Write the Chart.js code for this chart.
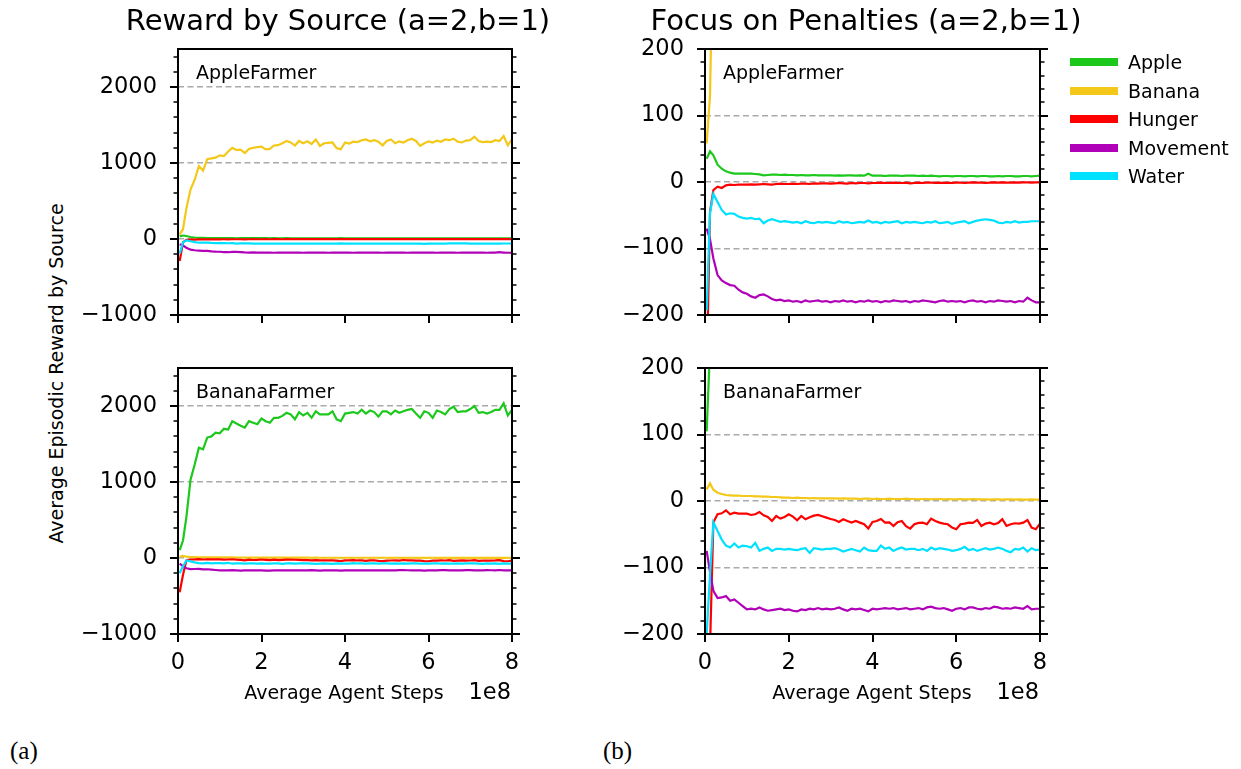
<!DOCTYPE html>
<html>
<head>
<meta charset="utf-8">
<script src="https://cdn.jsdelivr.net/npm/chart.js@4/dist/chart.umd.min.js"></script>
<style>
  html, body { margin: 0; padding: 0; background: #ffffff; }
  body { width: 1241px; height: 769px; position: relative; overflow: hidden; font-family: "DejaVu Sans", sans-serif; color: #000; }
  .box { position: absolute; }
  .t { position: absolute; white-space: nowrap; line-height: 1; font-family: "DejaVu Sans", sans-serif; color: #000; }
</style>
</head>
<body>
<div class="box" id="boxTL" style="left:78px;top:9px;width:459px;height:356px;"><canvas id="cTL"></canvas></div>
<div class="box" id="boxBL" style="left:78px;top:328px;width:459px;height:356px;"><canvas id="cBL"></canvas></div>
<div class="box" id="boxTR" style="left:605px;top:9px;width:460px;height:356px;"><canvas id="cTR"></canvas></div>
<div class="box" id="boxBR" style="left:605px;top:328px;width:460px;height:356px;"><canvas id="cBR"></canvas></div>
<script>
// ---------------- data ----------------
// x positions in units of 1e8 agent steps
const steps = [
  0.04, 0.12, 0.2, 0.3, 0.4, 0.5, 0.6, 0.7, 0.8, 0.9,
  1.0, 1.1, 1.2, 1.3, 1.4, 1.5, 1.6, 1.7, 1.8, 1.9,
  2.0, 2.1, 2.2, 2.3, 2.4, 2.5, 2.6, 2.7, 2.8, 2.9,
  3.0, 3.1, 3.2, 3.3, 3.4, 3.5, 3.6, 3.7, 3.8, 3.9,
  4.0, 4.1, 4.2, 4.3, 4.4, 4.5, 4.6, 4.7, 4.8, 4.9,
  5.0, 5.1, 5.2, 5.3, 5.4, 5.5, 5.6, 5.7, 5.8, 5.9,
  6.0, 6.1, 6.2, 6.3, 6.4, 6.5, 6.6, 6.7, 6.8, 6.9,
  7.0, 7.1, 7.2, 7.3, 7.4, 7.5, 7.6, 7.7, 7.8, 7.9,
  8.0
];
const seriesNames = ['Apple', 'Banana', 'Hunger', 'Movement', 'Water'];
const farmerNames = ['AppleFarmer', 'BananaFarmer'];

// AppleFarmer
const appleFarmerApple = [
  35, 46, 40, 26, 20, 16, 14, 12.5, 12.5, 12.5,
  12.5, 12.5, 12, 11.5, 10, 10.5, 11, 11, 10.5, 11,
  10.5, 10.5, 10, 10.5, 10, 10, 10.5, 10, 10, 10,
  10, 9.5, 10, 9.5, 10, 10, 9.5, 10, 9.5, 12.5,
  9.5, 9.5, 9.5, 9, 9.5, 9.5, 9.5, 9, 9.5, 9.5,
  9.5, 9, 9.5, 9, 9.5, 9, 8.5, 9, 9, 8.5,
  9, 9, 8.5, 9, 9, 8.5, 9, 9, 8.5, 8.5,
  9, 8.5, 9, 9, 8.5, 8.5, 9, 9, 8.5, 9,
  9.5
];
const appleFarmerBanana = [
  58, 130, 400, 650, 780, 960, 900, 1050, 1060, 1070,
  1100, 1090, 1150, 1200, 1170, 1175, 1130, 1185, 1200, 1210,
  1215, 1180, 1185, 1230, 1235, 1260, 1290, 1270, 1230, 1290,
  1260, 1285, 1250, 1310, 1225, 1260, 1265, 1270, 1195, 1180,
  1270, 1255, 1280, 1275, 1300, 1310, 1285, 1300, 1280, 1232,
  1290, 1310, 1260, 1285, 1270, 1300, 1320, 1290, 1225, 1260,
  1285, 1270, 1295, 1280, 1310, 1300, 1320, 1280, 1270, 1295,
  1300, 1346, 1290, 1276, 1280, 1276, 1300, 1290, 1355, 1232,
  1310
];
const appleFarmerHunger = [
  -290, -45, -12, -7, -9, -5, -4, -4.5, -4, -4,
  -4, -3.5, -4, -3.5, -3, -3.5, -4, -3, -2.5, -3,
  -3, -2.5, -3, -2.5, -2.5, -3, -2, -2.5, -2, -2,
  -2.5, -2, -1.5, -2, -2.5, -1.5, -2, -1.5, -1.5, -2,
  -1.5, -1.5, -1, -1.5, -1.5, -1, -1.5, -1.5, -1, -2,
  -1.5, -1, -1.5, -1, -1, -1.5, -1, -1.5, -1, -1.5,
  -1, -1, -1.5, -1, -0.5, -1, -1, -1.5, -1, -0.5,
  -1, -0.5, -1, -1, -0.5, -1, -0.5, -0.5, -1, -0.5,
  -0.5
];
const appleFarmerMovement = [
  -70, -86, -115, -140, -148, -152, -155, -156, -162, -166,
  -168, -172, -174, -170, -169, -172, -176, -178, -177, -179,
  -178, -180, -179, -181, -178, -180, -179, -178, -180, -179,
  -181, -179, -180, -178, -180, -179, -181, -179, -180, -178,
  -180, -179, -181, -179, -180, -178, -179, -180, -179, -181,
  -179, -180, -178, -179, -180, -181, -179, -178, -180, -179,
  -180, -179, -181, -179, -178, -180, -179, -181, -179, -180,
  -178, -179, -180, -179, -181, -179, -180, -174, -178, -181,
  -181
];
const appleFarmerWater = [
  -193, -46, -18, -30, -42, -49, -47, -48, -52, -54,
  -55, -54, -56, -55, -62, -58, -56, -58, -60, -59,
  -60, -61, -60, -62, -59, -61, -62, -60, -61, -60,
  -61, -62, -59, -61, -60, -62, -61, -60, -61, -58,
  -61, -60, -62, -60, -61, -60, -59, -62, -60, -61,
  -60, -61, -62, -60, -61, -59, -62, -61, -60, -63,
  -61, -60, -59, -62, -60, -58, -57, -56, -57, -58,
  -61, -62, -60, -61, -59, -61, -60, -60, -59, -59,
  -59
];

// BananaFarmer
const bananaFarmerApple = [
  105, 230, 535, 1030, 1230, 1450, 1430, 1585, 1600, 1650,
  1640, 1700, 1690, 1800, 1770, 1740, 1715, 1800, 1780, 1760,
  1835, 1800, 1780, 1845, 1845, 1870, 1910, 1890, 1825, 1920,
  1875, 1910, 1845, 1930, 1890, 1890, 1890, 1930, 1825, 1800,
  1900, 1910, 1920, 1900, 1950, 1900, 1940, 1920, 1860, 1930,
  1930, 1890, 1940, 1910, 1930, 1950, 1960, 1900, 1845, 1930,
  1910, 1845, 1940, 1920, 1890, 1960, 1990, 1920, 1930, 1930,
  1960, 2000, 1910, 1920, 1900, 1920, 1950, 1950, 2035, 1875,
  1950
];
const bananaFarmerBanana = [
  17.5, 26.5, 17, 12.5, 10.5, 9, 8.5, 8, 8, 7.5,
  7.5, 7.5, 7, 7, 6.5, 6.5, 6, 6, 5.5, 5,
  5, 4.5, 5, 4.5, 4.5, 4, 4.5, 4, 4, 4,
  4, 4, 3.5, 4, 3.5, 3.5, 3.5, 3, 3.5, 3.5,
  3, 3.5, 3, 3, 3.5, 3, 3, 3, 3.5, 3,
  3, 2.5, 3, 3, 2.5, 3, 3, 2.5, 3, 2.5,
  2.5, 3, 2.5, 2.5, 3, 2.5, 2.5, 2.5, 2, 2.5,
  2.5, 2, 2.5, 2.5, 2, 2.5, 2, 2, 2.5, 2,
  2
];
const bananaFarmerHunger = [
  -450, -220, -32, -20, -18.5, -14, -20, -17.5, -19, -19,
  -19, -21, -20, -16.5, -21.5, -24, -30, -22.5, -26.5, -24,
  -20, -23.5, -29, -22.5, -27.5, -24.5, -22, -21, -23, -25,
  -27, -28.5, -31.5, -27.5, -30, -32.5, -30, -32.5, -35, -41.5,
  -31.5, -30, -27, -32.5, -32, -37.5, -32, -30, -38, -41.5,
  -35, -33, -32.5, -35, -26.5, -30, -32.5, -34, -35, -40,
  -42.5, -35, -34, -32.5, -33, -28.5, -37.5, -34, -32.5, -35,
  -33, -27.5, -37.5, -35, -33.5, -34, -32.5, -28.5, -40, -42.5,
  -34
];
const bananaFarmerMovement = [
  -75, -107, -135, -146, -145, -143, -150, -148, -153, -158,
  -163, -162, -163, -160, -163, -165, -164, -163, -162, -164,
  -163, -165, -166, -163, -164, -162, -163, -161, -163, -162,
  -163, -162, -160, -163, -165, -162, -163, -162, -164, -166,
  -162, -163, -162, -161, -162, -161, -163, -162, -161, -163,
  -162, -161, -163, -160, -159, -161, -162, -161, -163, -165,
  -162, -161, -163, -160, -160, -162, -163, -161, -162, -159,
  -160, -162, -161, -162, -160, -161, -162, -158, -163, -162,
  -162
];
const bananaFarmerWater = [
  -200, -110, -32, -45, -58, -67, -70, -64, -70, -67,
  -68, -70, -63, -75, -72, -70, -75, -72, -72, -73,
  -72, -73, -74, -72, -71, -78, -71, -72, -73, -72,
  -72, -71, -73, -76, -74, -72, -74, -76, -70, -74,
  -75, -75, -67, -72, -70, -75, -72, -70, -73, -72,
  -72, -74, -72, -75, -70, -73, -71, -72, -73, -75,
  -74, -72, -69, -74, -72, -75, -73, -71, -73, -72,
  -70, -72, -75, -77, -72, -73, -70, -76, -71, -74,
  -73
];

// tick labels
const xTickValues = [0, 2, 4, 6, 8];
const rewardTickValues = [-1000, 0, 1000, 2000];
const penaltyTickValues = [-200, -100, 0, 100, 200];

// texts
const panelTitles = ['Reward by Source (a=2,b=1)', 'Focus on Penalties (a=2,b=1)'];
const xAxisTitle = 'Average Agent Steps';
const xAxisOffsetText = '1e8';
const yAxisTitle = 'Average Episodic Reward by Source';
const subfigLabels = ['(a)', '(b)'];

// ---------------- styles ----------------
const seriesColors = ['#1cc81c', '#f3c818', '#ff0000', '#b000b8', '#00e1ff'];
const FONT = 'DejaVu Sans';

const appleFarmerSeries = [appleFarmerApple, appleFarmerBanana, appleFarmerHunger, appleFarmerMovement, appleFarmerWater];
const bananaFarmerSeries = [bananaFarmerApple, bananaFarmerBanana, bananaFarmerHunger, bananaFarmerMovement, bananaFarmerWater];

// frame + outward tick marks (major and minor) drawn from the library scales
const frameTicks = {
  id: 'frameTicks',
  afterDatasetsDraw(chart, args, opts) {
    const { ctx, chartArea: a, scales } = chart;
    const y = scales.y, x = scales.x;
    ctx.save();
    ctx.strokeStyle = '#000';
    ctx.lineCap = 'butt';
    const nMinor = Math.floor((y.max - y.min) / opts.minor + 1e-9);
    for (let k = 0; k <= nMinor; k++) {
      const v = y.min + k * opts.minor;
      if (v > y.max) break;
      const isMajor = Math.abs(Math.round(v) % opts.major) === 0;
      const len = isMajor ? 8 : 4.5;
      const p = Math.round(y.getPixelForValue(v));
      ctx.lineWidth = isMajor ? 2 : 1.5;
      ctx.beginPath();
      ctx.moveTo(a.left - len, p); ctx.lineTo(a.left, p);
      ctx.moveTo(a.right, p); ctx.lineTo(a.right + len, p);
      ctx.stroke();
    }
    ctx.lineWidth = 2;
    for (const v of xTickValues) {
      const p = Math.round(x.getPixelForValue(v));
      ctx.beginPath();
      ctx.moveTo(p, a.bottom); ctx.lineTo(p, a.bottom + 8);
      ctx.stroke();
    }
    ctx.lineWidth = 2;
    ctx.strokeRect(a.left, a.top, a.right - a.left, a.bottom - a.top);
    ctx.restore();
  }
};

function fmt(v) { return v < 0 ? '\u2212' + Math.abs(v) : String(v); }

function makeChart(canvasId, series, yMin, yMax, yTicks, major, minor, showXLabels) {
  return new Chart(document.getElementById(canvasId), {
    type: 'line',
    data: {
      datasets: seriesNames.map((name, i) => ({
        label: name,
        data: steps.map((s, k) => ({ x: s, y: series[i][k] })),
        borderColor: seriesColors[i],
        backgroundColor: seriesColors[i],
        borderWidth: 2.2,
        pointRadius: 0,
        tension: 0,
        fill: false,
        order: seriesNames.length - 1 - i
      }))
    },
    options: {
      responsive: true,
      maintainAspectRatio: false,
      animation: false,
      devicePixelRatio: 1,
      events: [],
      layout: { padding: { top: 40, right: 25, left: 0, bottom: 0 } },
      plugins: {
        legend: { display: false },
        tooltip: { enabled: false },
        frameTicks: { major: major, minor: minor }
      },
      scales: {
        x: {
          type: 'linear', min: 0, max: 8,
          afterBuildTicks: s => { s.ticks = xTickValues.map(v => ({ value: v })); },
          afterFit: s => { s.height = 50; },
          grid: { display: false, drawTicks: false },
          border: { display: false },
          ticks: { display: showXLabels, autoSkip: false, maxRotation: 0, padding: 16,
                   color: '#000', font: { family: FONT, size: 22.5 }, callback: v => fmt(v) }
        },
        y: {
          type: 'linear', min: yMin, max: yMax,
          afterBuildTicks: s => { s.ticks = yTicks.map(v => ({ value: v })); },
          afterFit: s => { s.width = 100; },
          grid: { color: '#aaaaaa', lineWidth: 1.6, drawTicks: false },
          border: { display: false, dash: [6, 3.5] },
          ticks: { padding: 21, color: '#000', font: { family: FONT, size: 22.5 }, callback: v => fmt(v) }
        }
      }
    },
    plugins: [frameTicks]
  });
}

makeChart('cTL', appleFarmerSeries, -1000, 2500, rewardTickValues, 1000, 200, false);
makeChart('cBL', bananaFarmerSeries, -1000, 2500, rewardTickValues, 1000, 200, true);
makeChart('cTR', appleFarmerSeries, -200, 200, penaltyTickValues, 100, 20, false);
makeChart('cBR', bananaFarmerSeries, -200, 200, penaltyTickValues, 100, 20, true);

// ---------------- text (HTML) ----------------
function addText(txt, css) {
  const d = document.createElement('div');
  d.className = 't';
  d.textContent = txt;
  Object.assign(d.style, css);
  document.body.appendChild(d);
  return d;
}
// panel titles
addText(panelTitles[0], { left: '38px', width: '600px', textAlign: 'center', top: '6px', fontSize: '29px' });
addText(panelTitles[1], { left: '566px', width: '600px', textAlign: 'center', top: '6px', fontSize: '29px' });
// farmer labels
addText(farmerNames[0], { left: '196px', top: '63px', fontSize: '19px' });
addText(farmerNames[0], { left: '723px', top: '63px', fontSize: '19px' });
addText(farmerNames[1], { left: '196px', top: '382px', fontSize: '19px' });
addText(farmerNames[1], { left: '723px', top: '382px', fontSize: '19px' });
// x axis titles and offset text
addText(xAxisTitle, { left: '144px', width: '400px', textAlign: 'center', top: '683px', fontSize: '19px' });
addText(xAxisTitle, { left: '672px', width: '400px', textAlign: 'center', top: '683px', fontSize: '19px' });
addText(xAxisOffsetText, { left: '311px', width: '200px', textAlign: 'right', top: '680px', fontSize: '22.5px' });
addText(xAxisOffsetText, { left: '839px', width: '200px', textAlign: 'right', top: '680px', fontSize: '22.5px' });
// y axis title
addText(yAxisTitle, { left: '-194px', width: '500px', textAlign: 'center', top: '364px', fontSize: '19px', transform: 'rotate(-90deg)' });
// legend
const legendCenters = [62, 91, 119, 148, 176];
seriesNames.forEach((name, i) => {
  const sw = document.createElement('div');
  Object.assign(sw.style, { position: 'absolute', left: '1070px', top: (legendCenters[i] - 4) + 'px', width: '48px', height: '8px', background: seriesColors[i] });
  document.body.appendChild(sw);
  addText(name, { left: '1128px', top: (legendCenters[i] - 9) + 'px', fontSize: '19px' });
});
// subfigure labels
addText(subfigLabels[0], { left: '10px', top: '738px', fontSize: '25px', fontFamily: '"Liberation Serif", serif' });
addText(subfigLabels[1], { left: '603px', top: '738px', fontSize: '25px', fontFamily: '"Liberation Serif", serif' });
</script>
</body>
</html>
